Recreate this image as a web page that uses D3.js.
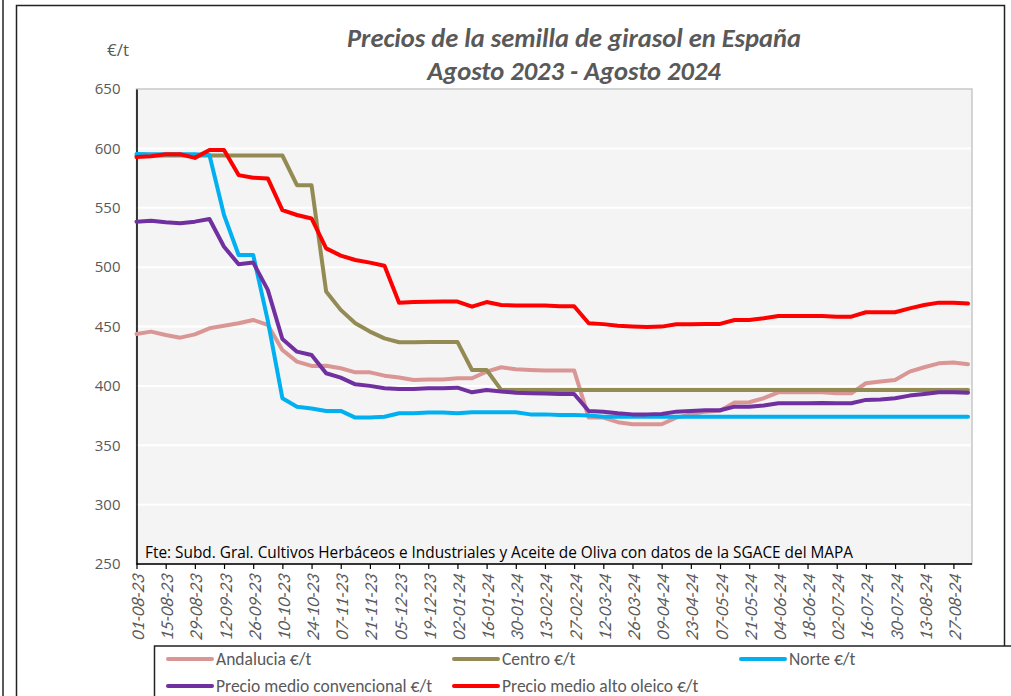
<!DOCTYPE html>
<html>
    <head>
        <meta charset="utf-8">
        <script src="https://cdn.jsdelivr.net/npm/d3@7"></script>
        <style>
            body { margin: 0; background: #ffffff; }
            svg { display: block; }
        </style>
    </head>
    <body>
        <svg id="chart" width="1011" height="696"></svg>
        <script>
            // Datos semanales (€/t)
            var fechas = ["01-08-23","08-08-23","15-08-23","22-08-23","29-08-23","05-09-23","12-09-23","19-09-23","26-09-23","03-10-23",
                "10-10-23","17-10-23","24-10-23","31-10-23","07-11-23","14-11-23","21-11-23","28-11-23","05-12-23","12-12-23",
                "19-12-23","26-12-23","02-01-24","09-01-24","16-01-24","23-01-24","30-01-24","06-02-24","13-02-24","20-02-24",
                "27-02-24","05-03-24","12-03-24","19-03-24","26-03-24","02-04-24","09-04-24","16-04-24","23-04-24","30-04-24",
                "07-05-24","14-05-24","21-05-24","28-05-24","04-06-24","11-06-24","18-06-24","25-06-24","02-07-24","09-07-24",
                "16-07-24","23-07-24","30-07-24","06-08-24","13-08-24","20-08-24","27-08-24","03-09-24"];

            var andalucia = [443.7,445.7,442.9,440.6,443.4,448.5,450.7,452.7,455.5,451.3,430.2,420.4,416.8,417,414.8,411.4,411.4,408.6,407,
                405,405.4,405.4,406.4,406.4,412,415.7,414,413.4,413,413,413,373.3,373.3,369.4,367.7,367.7,367.7,373.3,
                376,378.3,379,386,386.2,389.6,394.6,394.6,394.6,394.6,393.8,393.8,402.2,403.6,405,412,415.7,419,419.6,418.2];

            var centro = [594,594,594,594,594,594,594,594,594,594,594,569,569,479.4,464,452.7,445.7,440,436.7,
                436.7,437,437,437,413.4,413.4,396.6,396.6,396.6,396.6,396.6,396.6,396.6,396.6,396.6,396.6,396.6,396.6,396.6,
                396.6,396.6,396.6,396.6,396.6,396.6,396.6,396.6,396.6,396.6,396.6,396.6,396.6,396.6,396.6,396.6,396.6,396.6,396.6,396.6];

            var norte = [595.2,595,595,595,595,594.4,543.9,510.2,510.2,455,389.6,382.5,381,378.9,378.9,373.3,373.3,374,377,
                376.9,377.5,377.5,376.9,377.8,377.8,377.8,377.8,376,376,375.5,375.5,375,374,374,374,374,374,374,
                374,374,374,374,374,374,374,374,374,374,374,374,374,374,374,374,374,374,374,374];

            var convencional = [538.3,539,537.7,536.9,538.3,540.5,517.2,502.4,503.8,480.8,439.5,428.8,426,410.6,407,401.3,400,398,397.4,
                397.4,398,398,398.5,394.6,396.6,395.2,394.3,393.8,393.5,393.2,393.2,378.9,378.3,376.9,376,376,376.4,378.3,
                378.9,379.5,379.5,382.5,382.5,383.4,385.4,385.4,385.4,385.6,385.4,385.4,388.2,388.5,389.6,391.8,393.2,394.6,394.6,394.3];

            var altoOleico = [592.7,593.3,595,595,592,598.6,598.6,577.5,575.3,574.7,548,543.9,541,515.8,509.7,506,503.8,501.2,470,
                470.6,470.9,471,471,466.7,470.6,468.1,467.6,467.6,467.6,467,467,452.7,452,450.7,450.1,449.6,449.9,451.9,
                451.9,452.2,452.2,455.5,455.5,456.9,458.9,458.9,458.9,458.9,458.3,458.3,462,462,462,465.3,468.1,470.1,470.1,469.3];

            var yTicks = [250,300,350,400,450,500,550,600,650];

            var series = [
                {name: "Andalucia €/t", values: andalucia, color: "#da9694"},
                {name: "Centro €/t", values: centro, color: "#948a54"},
                {name: "Norte €/t", values: norte, color: "#00b0f0"},
                {name: "Precio medio convencional €/t", values: convencional, color: "#7030a0"},
                {name: "Precio medio alto oleico €/t", values: altoOleico, color: "#ff0000"}
            ];

            var gris = "#595959";
            var calibri = "Carlito, Calibri, Lato, sans-serif";

            // Area del grafico
            var plot = {left: 136.5, right: 972, top: 89, bottom: 564};

            var svg = d3.select("svg#chart");

            // Marcos exteriores
            svg.append("line").attr("x1", 3).attr("x2", 3).attr("y1", 0).attr("y2", 696).attr("stroke", "#222").attr("stroke-width", 1.5);
            svg.append("rect").attr("x", 16.5).attr("y", 5.5).attr("width", 988).attr("height", 700)
                .attr("fill", "none").attr("stroke", "#222").attr("stroke-width", 1.5);

            var x = d3.scalePoint().domain(fechas).range([136.5, 968]);
            var y = d3.scaleLinear().domain([250, 650]).range([plot.bottom, plot.top]);

            // Fondo y rejilla
            svg.append("rect").attr("x", plot.left).attr("y", plot.top).attr("width", plot.right - plot.left).attr("height", plot.bottom - plot.top)
                .attr("fill", "#f4f4f4").attr("stroke", "#c8c8c8").attr("stroke-width", 1.5);

            svg.append("g").selectAll("line").data(yTicks.slice(1, -1)).enter().append("line")
                .attr("x1", plot.left).attr("x2", plot.right - 1)
                .attr("y1", function(d) { return y(d); }).attr("y2", function(d) { return y(d); })
                .attr("stroke", "#ffffff").attr("stroke-width", 2);

            // Eje Y
            var yAxis = d3.axisLeft(y).tickValues(yTicks).tickSize(0).tickPadding(16);
            var gy = svg.append("g").attr("transform", "translate(" + plot.left + ",0)").call(yAxis);
            gy.select(".domain").attr("stroke", "#000").attr("stroke-width", 1.5);
            gy.selectAll("text").attr("fill", gris).style("font-family", "'Open Sans', sans-serif").style("font-size", "15px");

            // Eje X
            var xAxis = d3.axisBottom(x).tickValues(fechas.filter(function(d, i) { return i % 2 == 0; })).tickSize(5).tickSizeOuter(0);
            var gx = svg.append("g").attr("transform", "translate(0," + plot.bottom + ")").call(xAxis);
            gx.select(".domain").attr("d", "M" + plot.left + ",0H" + plot.right).attr("stroke", "#000").attr("stroke-width", 1.5);
            gx.selectAll(".tick line").attr("stroke", "#000").attr("stroke-width", 1.2);
            gx.selectAll("text").attr("fill", gris)
                .style("font-family", calibri).style("font-style", "italic").style("font-size", "18px")
                .attr("text-anchor", "end").attr("dy", null).attr("y", 0)
                .attr("transform", "translate(7,11) rotate(-90) skewX(-10)");

            // Nota de fuente
            svg.append("text").attr("x", 145).attr("y", 558).attr("fill", "#000")
                .style("font-family", "'Open Sans', sans-serif").style("font-size", "16px")
                .attr("textLength", 708).attr("lengthAdjust", "spacingAndGlyphs")
                .text("Fte: Subd. Gral. Cultivos Herbáceos e Industriales y Aceite de Oliva con datos de la SGACE del MAPA");

            // Lineas
            var line = d3.line().x(function(d, i) { return x(fechas[i]); }).y(function(d) { return y(d); });
            svg.append("g").selectAll("path").data(series).enter().append("path")
                .attr("fill", "none").attr("stroke", function(d) { return d.color; })
                .attr("stroke-width", 4).attr("stroke-linejoin", "round").attr("stroke-linecap", "round")
                .attr("d", function(d) { return line(d.values); });

            // Titulos
            var titulo = svg.append("text").attr("text-anchor", "middle").attr("fill", gris)
                .style("font-family", calibri).style("font-weight", "bold").style("font-style", "italic").style("font-size", "26.5px");
            titulo.append("tspan").attr("x", 574).attr("y", 47).text("Precios de la semilla de girasol en España");
            titulo.append("tspan").attr("x", 574).attr("y", 80).text("Agosto 2023 - Agosto 2024");

            svg.append("text").attr("x", 107).attr("y", 56).attr("fill", gris)
                .style("font-family", "'Open Sans', sans-serif").style("font-size", "17px").text("€/t");

            // Leyenda
            svg.append("rect").attr("x", 154.5).attr("y", 646).attr("width", 900).attr("height", 80)
                .attr("fill", "#fff").attr("stroke", "#222").attr("stroke-width", 1.5);

            var posLeyenda = [[168, 659], [454, 659], [741, 659], [168, 686], [454, 686]];
            var leyenda = svg.append("g").selectAll("g").data(series).enter().append("g")
                .attr("transform", function(d, i) { return "translate(" + posLeyenda[i][0] + "," + posLeyenda[i][1] + ")"; });
            leyenda.append("line").attr("x1", 0).attr("x2", 44).attr("stroke", function(d) { return d.color; })
                .attr("stroke-width", 4).attr("stroke-linecap", "round");
            leyenda.append("text").attr("x", 48).attr("dy", "0.35em").attr("fill", gris)
                .style("font-family", calibri).style("font-size", "17.5px")
                .text(function(d) { return d.name; });
        </script>
    </body>
</html>
